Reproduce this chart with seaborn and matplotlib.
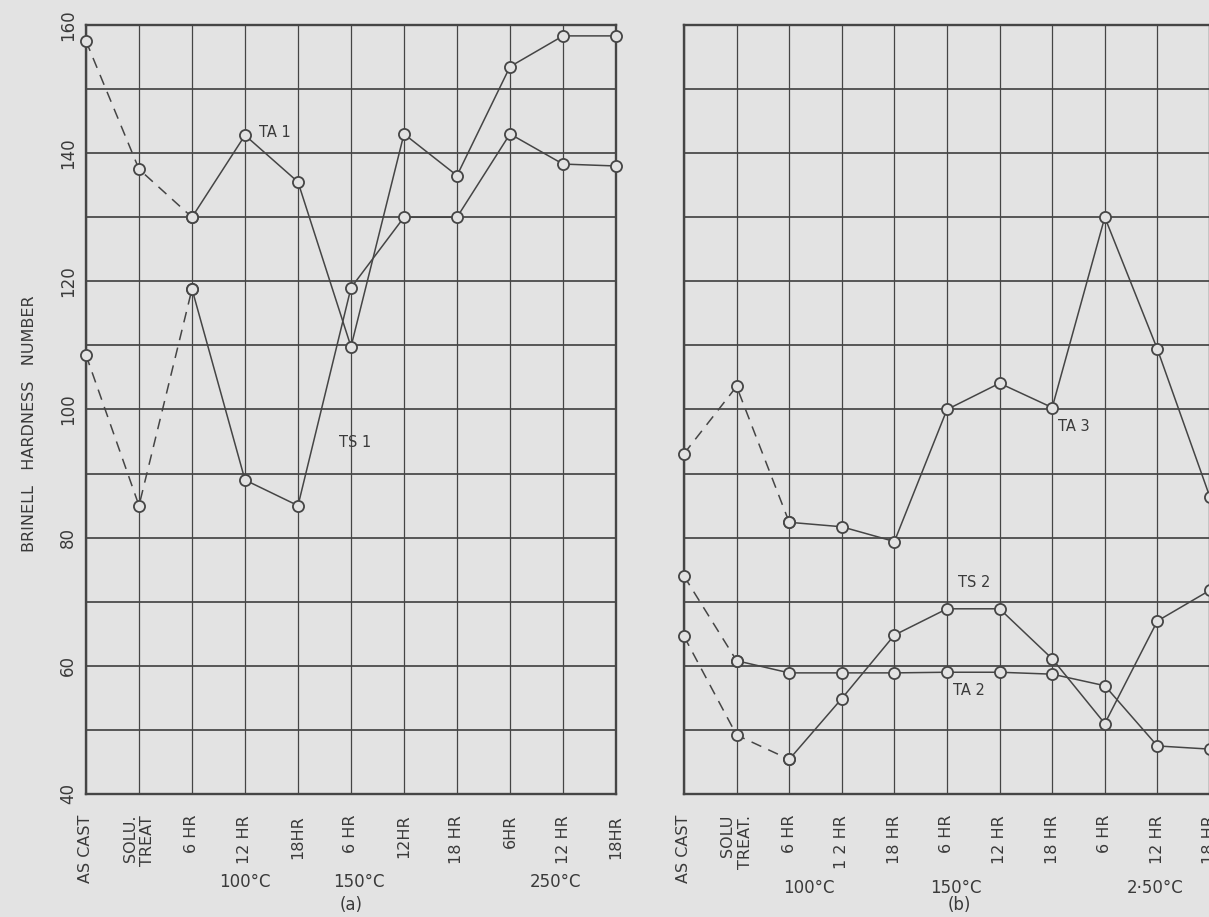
import numpy as np
import pandas as pd
import matplotlib
matplotlib.use("Agg")
import matplotlib.pyplot as plt
import seaborn as sns

# ---------------- data ----------------
positions = list(range(11))
labels_a = ["AS CAST", "SOLU.\nTREAT", "6 HR", "12 HR", "18HR", "6 HR",
            "12HR", "18 HR", "6HR", "12 HR", "18HR"]
labels_b = ["AS CAST", "SOLU\nTREAT.", "6 HR", "1 2 HR", "18 HR", "6 HR",
            "12 HR", "18 HR", "6 HR", "12 HR", "18 HR"]

ta1 = [157.5, 137.5, 130.0, 142.8, 135.5, 109.8, 143.0, 136.5, 153.5, 158.3, 158.3]
ts1 = [108.5, 85.0, 118.8, 89.0, 85.0, 119.0, 130.0, 130.0, 143.0, 138.3, 138.0]

ta3 = [93.1, 103.6, 82.4, 81.7, 79.4, 100.0, 104.1, 100.3, 130.0, 109.4, 86.3]
ts2 = [64.6, 49.2, 45.4, 54.9, 64.8, 68.9, 68.9, 61.1, 51.0, 67.0, 71.8]
ta2 = [74.0, 60.8, 58.9, 58.9, 58.9, 59.0, 59.0, 58.7, 56.9, 47.5, 47.0]

# index where the dashed (untreated) part ends for each series
dash_end = {"TA 1": 2, "TS 1": 2, "TA 3": 2, "TS 2": 2, "TA 2": 1}

BG = "#e3e3e3"
INK = "#454545"
TXT = "#3a3a3a"


def build(series):
    rows = []
    for name, vals in series.items():
        k = dash_end[name]
        for i in range(0, k + 1):
            rows.append(dict(seg=name + "_d", kind="dashed", pos=positions[i], hb=vals[i]))
        for i in range(k, len(vals)):
            rows.append(dict(seg=name + "_s", kind="solid", pos=positions[i], hb=vals[i]))
    return pd.DataFrame(rows)


df_a = build({"TA 1": ta1, "TS 1": ts1})
df_b = build({"TA 3": ta3, "TS 2": ts2, "TA 2": ta2})

sns.set_theme(style="white")
plt.rcParams["font.family"] = ["DejaVu Sans"]
plt.rcParams["figure.facecolor"] = BG

W, H = 1209, 917
fig = plt.figure(figsize=(W / 100, H / 100), dpi=100)
fig.patch.set_facecolor(BG)

ax_a = fig.add_axes([86 / W, 1 - 794 / H, 530 / W, 769 / H])
ax_b = fig.add_axes([684 / W, 1 - 794 / H, 526 / W, 769 / H])


def style_axes(ax, xlabels, ylabels_on):
    ax.set_facecolor(BG)
    ax.set_xlim(0, 10)
    ax.set_ylim(40, 160)
    ax.set_xticks(positions)
    ax.set_xticklabels(xlabels, rotation=90, va="top", ha="center",
                       multialignment="right", fontsize=11.5, color=TXT)
    yt = list(range(40, 161, 10))
    ax.set_yticks(yt)
    if ylabels_on:
        ax.set_yticklabels([str(v) if v % 20 == 0 else "" for v in yt],
                           rotation=90, va="center", ha="center",
                           fontsize=12, color=TXT)
    else:
        ax.set_yticklabels([])
    ax.tick_params(axis="x", length=0, pad=15)
    ax.tick_params(axis="y", length=0, pad=13)
    for x in positions:
        ax.axvline(x, color=INK, lw=0.9, zorder=1)
    for y in yt:
        ax.axhline(y, color=INK, lw=1.25, zorder=1)
    for s in ax.spines.values():
        s.set_color(INK)
        s.set_linewidth(1.7)
        s.set_visible(True)
    ax.set_xlabel("")
    ax.set_ylabel("")


def draw(ax, df):
    sns.lineplot(data=df, x="pos", y="hb", units="seg", estimator=None,
                 style="kind", dashes={"dashed": (7, 5), "solid": ""},
                 markers={"dashed": "o", "solid": "o"}, sort=False,
                 color=INK, lw=1.1, markersize=8, markerfacecolor=BG,
                 markeredgecolor=INK, markeredgewidth=1.3,
                 legend=False, ax=ax, zorder=3)
    for ln in ax.lines:
        if ln.get_marker() == "o":
            ln.set_clip_on(False)


draw(ax_a, df_a)
draw(ax_b, df_b)
style_axes(ax_a, labels_a, True)
style_axes(ax_b, labels_b, False)

# series labels
kw = dict(fontsize=10.5, color=TXT, zorder=5)
ax_a.text(3.27, 143.3, "TA 1", ha="left", va="center", **kw)
ax_a.text(4.77, 94.8, "TS 1", ha="left", va="center", **kw)
ax_b.text(7.11, 97.4, "TA 3", ha="left", va="center", **kw)
ax_b.text(5.21, 73.0, "TS 2", ha="left", va="center", **kw)
ax_b.text(5.11, 56.1, "TA 2", ha="left", va="center", **kw)

# temperature group labels and panel letters
for ax, items in ((ax_a, [(3.0, -0.114, "100°C"), (5.15, -0.114, "150°C"),
                          (8.85, -0.114, "250°C"), (5.0, -0.144, "(a)")]),
                  (ax_b, [(2.38, -0.122, "100°C"), (5.17, -0.122, "150°C"),
                          (8.95, -0.122, "2·50°C"), (5.23, -0.144, "(b)")])):
    for x, y, t in items:
        ax.text(x, y, t, transform=ax.get_xaxis_transform(), fontsize=12,
                color=TXT, ha="center", va="center")

fig.text(30 / W, 1 - 424 / H, "BRINELL   HARDNESS   NUMBER", rotation=90,
         ha="center", va="center", fontsize=11.5, color=TXT)

fig.savefig("out.png", dpi=100, facecolor=BG)
